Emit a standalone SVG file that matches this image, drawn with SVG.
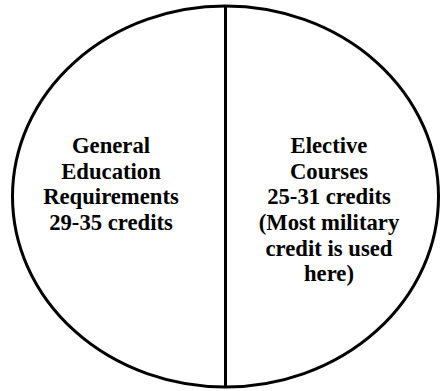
<svg xmlns="http://www.w3.org/2000/svg" width="440" height="391" viewBox="0 0 440 391">
  <style>
    .outline { fill: #ffffff; stroke: #000000; stroke-width: 3; }
    .divider { stroke: #000000; stroke-width: 3; fill: none; }
    .label { font-weight: bold; font-size: 22.7px; fill: #000000; text-anchor: middle; }
  </style>
  <rect width="440" height="391" fill="#ffffff"/>
  <g id="circle">
    <ellipse class="outline" cx="225.5" cy="196.5" rx="213" ry="190.5"/>
  </g>
  <g id="connectors">
    <line class="divider" x1="225.5" y1="6" x2="225.5" y2="387"/>
  </g>
  <g id="general-education" font-family="Liberation Serif, Times New Roman, serif">
    <text class="label" x="111" y="153">General</text>
    <text class="label" x="111" y="178.5">Education</text>
    <text class="label" x="111" y="204">Requirements</text>
    <text class="label" x="111" y="230">29-35 credits</text>
  </g>
  <g id="elective-courses" font-family="Liberation Serif, Times New Roman, serif">
    <text class="label" x="329" y="153">Elective</text>
    <text class="label" x="329" y="178.5">Courses</text>
    <text class="label" x="329" y="204">25-31 credits</text>
    <text class="label" x="329" y="229.5">(Most military</text>
    <text class="label" x="329" y="255.5">credit is used</text>
    <text class="label" x="329" y="281">here)</text>
  </g>
</svg>
